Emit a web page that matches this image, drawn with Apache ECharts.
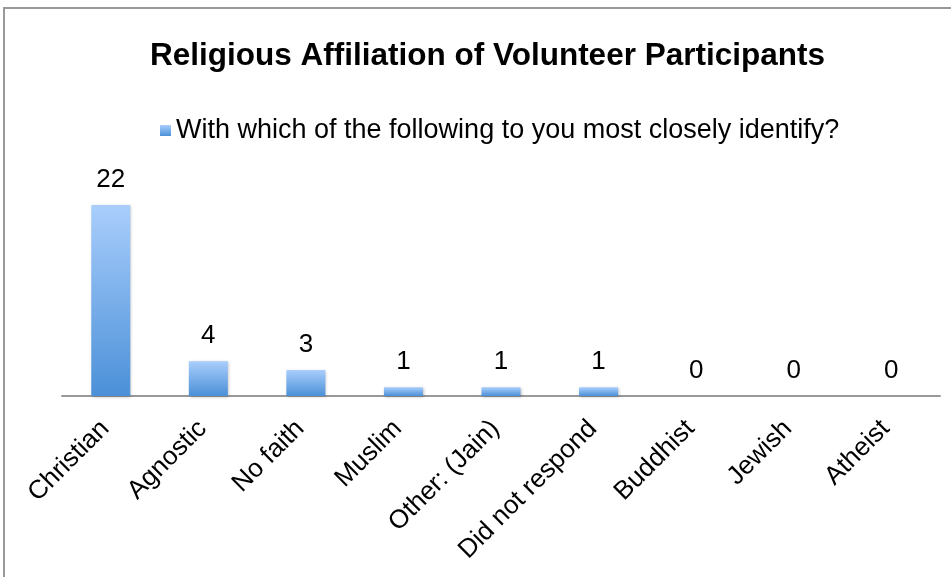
<!DOCTYPE html>
<html><head><meta charset="utf-8">
<script src="https://cdn.jsdelivr.net/npm/echarts@6/dist/echarts.min.js"></script>
<style>html,body{margin:0;padding:0;background:#fff}#c{width:951px;height:577px}</style>
</head><body><div id="c"></div>
<script>
const categories = ["Christian","Agnostic","No faith","Muslim","Other: (Jain)","Did not respond","Buddhist","Jewish","Atheist"];
const values = [22,4,3,1,1,1,0,0,0];
const seriesName = "With which of the following to you most closely identify?";
const titleText = "Religious Affiliation of Volunteer Participants";

const chart = echarts.init(document.getElementById('c'), null, {renderer:'canvas'});
const font = '"Liberation Sans", Arial, Helvetica, sans-serif';
chart.setOption({
  animation:false,
  backgroundColor:'#fff',
  title:{text:titleText,left:145,top:35,textStyle:{fontFamily:font,fontSize:31.5,fontWeight:'bold',color:'#000'}},
  legend:{data:[seriesName],left:155,top:112,itemWidth:11,itemHeight:11,itemGap:5,
    textStyle:{fontFamily:font,fontSize:27,color:'#000'}, icon:'rect'},
  graphic:[{type:'polyline',shape:{points:[[4,577],[4,8],[951,8]]},style:{stroke:'#999',lineWidth:2,fill:null}}],
  grid:{left:62,right:11,top:205,bottom:181,containLabel:false},
  xAxis:{type:'category',data:categories,
    axisLine:{lineStyle:{color:'#999',width:2}},axisTick:{show:false},
    axisLabel:{rotate:45,interval:0,margin:23,padding:[0,8,0,0],fontFamily:font,fontSize:26,color:'#000'}},
  yAxis:{type:'value',min:0,max:22,show:false,splitLine:{show:false}},
  series:[{name:seriesName,type:'bar',data:values,barWidth:39,
    itemStyle:{color:new echarts.graphic.LinearGradient(0,0,0,1,[{offset:0,color:'#a9cefc'},{offset:1,color:'#4b90d8'}]),
      shadowColor:'rgba(0,0,0,0.25)',shadowBlur:3,shadowOffsetX:1,shadowOffsetY:1},
    label:{show:true,position:'top',distance:12,fontFamily:font,fontSize:26,color:'#000'}}]
});
</script></body></html>
